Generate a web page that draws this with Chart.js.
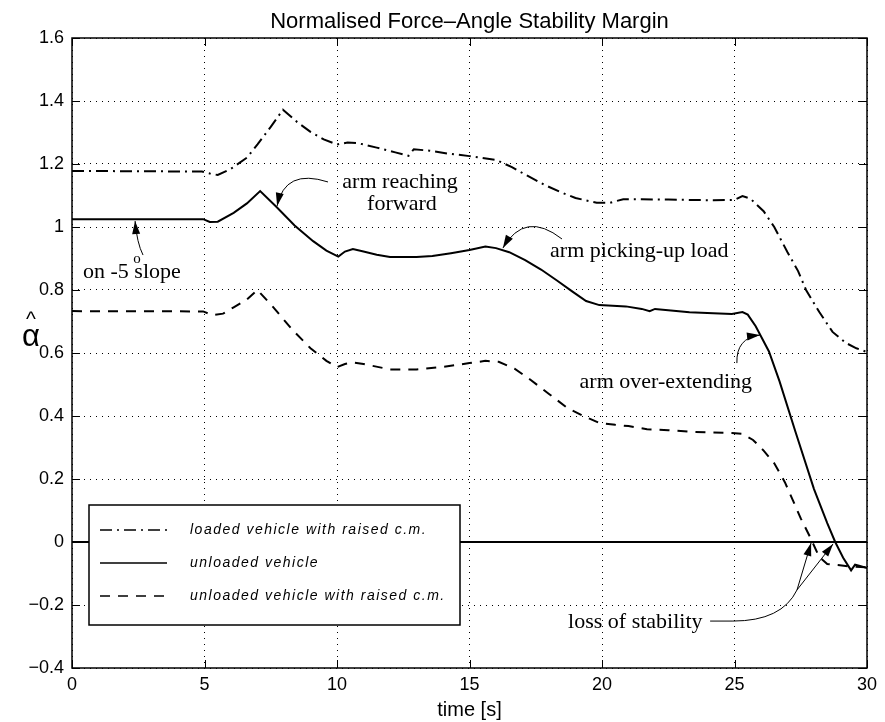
<!DOCTYPE html>
<html><head><meta charset="utf-8">
<script src="https://cdn.jsdelivr.net/npm/chart.js@4.4.0/dist/chart.umd.min.js"></script>
<style>html,body{margin:0;padding:0;background:#fff;}canvas{display:block;}</style>
</head><body>
<canvas id="c" width="885" height="722" style="width:885px;height:722px"></canvas>
<script>
// ---------- data ----------
const chartTitle = 'Normalised Force\u2013Angle Stability Margin';
const xAxisTitle = 'time [s]';
const yAxisSymbol = '\u03B1';
const yAxisHat = '^';
const xTickValues = [0, 5, 10, 15, 20, 25, 30];
const xTickLabels = ['0', '5', '10', '15', '20', '25', '30'];
const yTickValues = [-0.4, -0.2, 0, 0.2, 0.4, 0.6, 0.8, 1.0, 1.2, 1.4, 1.6];
const yTickLabels = ['\u22120.4', '\u22120.2', '0', '0.2', '0.4', '0.6', '0.8', '1', '1.2', '1.4', '1.6'];
const seriesNames = ['loaded vehicle with raised c.m.', 'unloaded vehicle', 'unloaded vehicle with raised c.m.'];

// loaded vehicle with raised c.m. (dash-dot)
const loadedT = [0, 2.5, 4.9, 5.2, 5.5, 6.0, 6.6, 7.0, 7.5, 7.96, 8.5, 9.0, 9.5, 10.0, 10.4, 10.8, 11.5, 12.2, 12.7, 12.9, 13.5, 14.2, 15.0, 16.0, 16.6, 17.2, 17.8, 18.4, 19.0, 19.8, 20.3, 20.8, 21.5, 22.5, 23.3, 24.2, 25.0, 25.3, 25.6, 26.1, 26.5, 27.0, 27.4, 27.7, 28.2, 28.7, 29.2, 29.6, 30.0];
const loadedV = [1.178, 1.177, 1.176, 1.170, 1.165, 1.185, 1.220, 1.262, 1.318, 1.372, 1.333, 1.302, 1.278, 1.262, 1.268, 1.266, 1.252, 1.237, 1.226, 1.247, 1.242, 1.233, 1.225, 1.213, 1.190, 1.162, 1.135, 1.112, 1.092, 1.077, 1.077, 1.088, 1.088, 1.087, 1.086, 1.085, 1.086, 1.098, 1.090, 1.050, 1.000, 0.920, 0.860, 0.800, 0.730, 0.667, 0.632, 0.615, 0.603];

// unloaded vehicle (solid)
const unloadedT = [0, 4.95, 5.2, 5.5, 6.1, 6.6, 7.1, 7.7, 8.4, 9.1, 9.6, 10.05, 10.3, 10.6, 11.0, 11.5, 12.0, 13.0, 13.6, 14.3, 15.0, 15.6, 16.0, 16.5, 17.1, 17.7, 18.3, 18.9, 19.4, 19.9, 20.4, 20.9, 21.5, 21.8, 22.0, 22.6, 23.3, 24.2, 24.9, 25.3, 25.5, 25.8, 26.3, 26.7, 27.3, 28.0, 28.5, 28.8, 29.1, 29.4, 29.55, 29.7, 30.0];
const unloadedV = [1.025, 1.025, 1.016, 1.017, 1.045, 1.075, 1.114, 1.065, 1.005, 0.955, 0.925, 0.906, 0.922, 0.930, 0.922, 0.912, 0.905, 0.905, 0.908, 0.917, 0.927, 0.938, 0.933, 0.920, 0.895, 0.865, 0.830, 0.794, 0.765, 0.752, 0.750, 0.748, 0.740, 0.733, 0.740, 0.735, 0.729, 0.726, 0.724, 0.730, 0.722, 0.685, 0.605, 0.510, 0.350, 0.168, 0.060, 0.000, -0.050, -0.090, -0.072, -0.075, -0.083];

// unloaded vehicle with raised c.m. (dashed)
const raisedT = [0, 4.95, 5.3, 5.7, 6.1, 6.6, 7.0, 7.6, 8.3, 9.0, 9.6, 10.0, 10.3, 10.6, 11.0, 12.0, 13.0, 14.0, 15.0, 15.6, 16.1, 16.7, 17.3, 18.0, 18.7, 19.3, 19.9, 20.5, 21.0, 21.7, 22.5, 23.3, 24.2, 24.9, 25.3, 25.7, 26.1, 26.5, 26.9, 27.2, 27.5, 27.85, 28.2, 28.5, 28.9, 29.4, 30.0];
const raisedV = [0.733, 0.732, 0.720, 0.725, 0.745, 0.770, 0.800, 0.745, 0.675, 0.615, 0.575, 0.555, 0.565, 0.570, 0.565, 0.548, 0.548, 0.556, 0.568, 0.575, 0.572, 0.550, 0.515, 0.470, 0.425, 0.400, 0.378, 0.372, 0.368, 0.358, 0.355, 0.350, 0.348, 0.346, 0.343, 0.324, 0.290, 0.250, 0.190, 0.133, 0.075, 0.016, -0.048, -0.070, -0.073, -0.078, -0.080];

// zero reference line
const zeroT = [0, 30];
const zeroV = [0, 0];

// ---------- annotation layout (data coordinates) ----------
const noteTexts = [
  {text: 'arm reaching', t: 12.38, v: 1.124, align: 'center'},
  {text: 'forward', t: 12.45, v: 1.054, align: 'center'},
  {text: 'arm picking-up load', t: 18.04, v: 0.905, align: 'left'},
  {text: 'arm over-extending', t: 25.66, v: 0.489, align: 'right'},
  {text: 'loss of stability', t: 18.72, v: -0.273, align: 'left'}
];
const slopeNote = {pre: 'on -5', sup: 'o', post: 'slope', t: 0.415, v: 0.838};
const noteArrows = [
  {from: [2.68, 0.911], ctrl: [2.45, 0.949], to: [2.38, 1.019]},
  {from: [9.66, 1.143], ctrl: [8.04, 1.187], to: [7.74, 1.067]},
  {from: [18.49, 0.962], ctrl: [17.09, 1.054], to: [16.26, 0.933]},
  {from: [25.09, 0.568], ctrl: [25.06, 0.648], to: [25.96, 0.657]},
  {from: [27.36, -0.152], ctrl: null, to: [27.89, -0.003]},
  {from: [27.36, -0.152], ctrl: null, to: [28.72, -0.006]}
];
const lossLeader = {a: [24.08, -0.251], b: [24.94, -0.251], ctrl: [26.79, -0.251], end: [27.36, -0.152]};

function pts(ts, vs) { return ts.map((t, i) => ({x: t, y: vs[i]})); }

const serifFont = '22px "Liberation Serif", "Times New Roman", serif';

function arrowHead(ctx, x, y, dx, dy) {
  const len = Math.hypot(dx, dy) || 1;
  const ux = dx / len, uy = dy / len;
  const L = 13, W = 4;
  ctx.beginPath();
  ctx.moveTo(x, y);
  ctx.lineTo(x - ux * L - uy * W, y - uy * L + ux * W);
  ctx.lineTo(x - ux * L + uy * W, y - uy * L - ux * W);
  ctx.closePath();
  ctx.fill();
}

const decorPlugin = {
  id: 'decor',
  afterDatasetsDraw(chart) {
    const {ctx, chartArea: a, scales: {x, y}} = chart;
    const P = p => [x.getPixelForValue(p[0]), y.getPixelForValue(p[1])];
    ctx.save();

    // ----- legend box -----
    const lx = a.left + 17, ly = a.bottom - 163, lw = 371, lh = 120;
    ctx.fillStyle = '#fff';
    ctx.fillRect(lx, ly, lw, lh);
    ctx.strokeStyle = '#000';
    ctx.lineWidth = 1.5;
    ctx.strokeRect(lx, ly, lw, lh);
    const dashes = [[12, 5, 2, 5], [], [10, 8]];
    ctx.font = 'italic 14px "Liberation Sans", Arial, sans-serif';
    try { ctx.letterSpacing = '1.5px'; } catch (e) {}
    ctx.textBaseline = 'middle';
    ctx.textAlign = 'left';
    seriesNames.forEach((name, i) => {
      const ry = ly + 25 + i * 33;
      ctx.setLineDash(dashes[i]);
      ctx.lineWidth = 1.5;
      ctx.beginPath();
      ctx.moveTo(lx + 11, ry);
      ctx.lineTo(lx + 78, ry);
      ctx.stroke();
      ctx.setLineDash([]);
      ctx.fillStyle = '#000';
      ctx.fillText(name, lx + 101, ry);
    });
    try { ctx.letterSpacing = '0px'; } catch (e) {}

    // ----- annotations -----
    ctx.fillStyle = '#000';
    ctx.strokeStyle = '#000';
    ctx.font = serifFont;
    ctx.textBaseline = 'alphabetic';
    noteTexts.forEach(n => {
      ctx.textAlign = n.align;
      ctx.fillText(n.text, x.getPixelForValue(n.t), y.getPixelForValue(n.v));
    });
    // slope note with superscript degree
    ctx.textAlign = 'left';
    let sx = x.getPixelForValue(slopeNote.t), sy = y.getPixelForValue(slopeNote.v);
    ctx.fillText(slopeNote.pre, sx, sy);
    const w1 = ctx.measureText(slopeNote.pre + ' ').width;
    ctx.fillText(slopeNote.post, sx + w1, sy);
    ctx.font = '15px "Liberation Serif", "Times New Roman", serif';
    ctx.fillText(slopeNote.sup, sx + w1 - 1, sy - 15);

    ctx.lineWidth = 1;
    noteArrows.forEach(ar => {
      const f = P(ar.from), t = P(ar.to);
      ctx.beginPath();
      ctx.moveTo(f[0], f[1]);
      let dx, dy;
      if (ar.ctrl) {
        const c = P(ar.ctrl);
        ctx.quadraticCurveTo(c[0], c[1], t[0], t[1]);
        dx = t[0] - c[0]; dy = t[1] - c[1];
      } else {
        ctx.lineTo(t[0], t[1]);
        dx = t[0] - f[0]; dy = t[1] - f[1];
      }
      ctx.stroke();
      arrowHead(ctx, t[0], t[1], dx, dy);
    });
    // leader for loss of stability
    {
      const A = P(lossLeader.a), B = P(lossLeader.b), C = P(lossLeader.ctrl), E = P(lossLeader.end);
      ctx.beginPath();
      ctx.moveTo(A[0], A[1]);
      ctx.lineTo(B[0], B[1]);
      ctx.quadraticCurveTo(C[0], C[1], E[0], E[1]);
      ctx.stroke();
    }

    // ----- frame and inner ticks -----
    ctx.lineWidth = 1.5;
    ctx.strokeRect(a.left, a.top, a.right - a.left, a.bottom - a.top);
    ctx.lineWidth = 1;
    ctx.beginPath();
    xTickValues.forEach(v => {
      const px = Math.round(x.getPixelForValue(v)) + 0.5;
      ctx.moveTo(px, a.bottom); ctx.lineTo(px, a.bottom - 8);
      ctx.moveTo(px, a.top); ctx.lineTo(px, a.top + 8);
    });
    yTickValues.forEach(v => {
      const py = Math.round(y.getPixelForValue(v)) + 0.5;
      ctx.moveTo(a.left, py); ctx.lineTo(a.left + 8, py);
      ctx.moveTo(a.right, py); ctx.lineTo(a.right - 8, py);
    });
    ctx.stroke();

    // ----- y axis symbol -----
    ctx.textAlign = 'center';
    ctx.textBaseline = 'middle';
    ctx.font = '31px "Liberation Sans", Arial, sans-serif';
    const ay = y.getPixelForValue(0.65);
    ctx.fillText(yAxisSymbol, 31, ay);
    ctx.font = '21px "Liberation Sans", Arial, sans-serif';
    ctx.fillText(yAxisHat, 31, ay - 17);
    ctx.restore();
  }
};

const lineBase = {pointRadius: 0, borderColor: '#000', borderWidth: 2, tension: 0, fill: false, borderCapStyle: 'butt'};
const tickFont = {family: 'Liberation Sans', size: 18};
const labelFont = {family: 'Liberation Sans', size: 20};

new Chart(document.getElementById('c'), {
  type: 'line',
  data: {
    datasets: [
      Object.assign({label: seriesNames[0], data: pts(loadedT, loadedV), borderDash: [12, 5, 2, 5]}, lineBase),
      Object.assign({label: seriesNames[1], data: pts(unloadedT, unloadedV)}, lineBase),
      Object.assign({label: seriesNames[2], data: pts(raisedT, raisedV), borderDash: [10, 8]}, lineBase),
      Object.assign({label: 'zero', data: pts(zeroT, zeroV)}, lineBase)
    ]
  },
  options: {
    responsive: false,
    animation: false,
    devicePixelRatio: 1,
    layout: {padding: {left: 0, right: 18, top: 0, bottom: 0}},
    plugins: {
      legend: {display: false},
      tooltip: {enabled: false},
      title: {
        display: true, text: chartTitle, fullSize: false,
        font: {family: 'Liberation Sans', size: 22, weight: 'normal'},
        color: '#000', padding: {top: 8.6, bottom: 3}
      }
    },
    scales: {
      x: {
        type: 'linear', min: 0, max: 30,
        afterBuildTicks: s => { s.ticks = xTickValues.map(v => ({value: v})); },
        afterFit: s => { s.height = 54; },
        ticks: {callback: (v, i) => xTickLabels[i], font: tickFont, color: '#000', padding: 6, maxRotation: 0, autoSkip: false},
        grid: {color: '#000', lineWidth: 1, drawTicks: false},
        border: {display: false, dash: [1, 5]},
        title: {display: true, text: xAxisTitle, font: labelFont, color: '#000', padding: {top: 0, bottom: 0}}
      },
      y: {
        type: 'linear', min: -0.4, max: 1.6,
        afterBuildTicks: s => { s.ticks = yTickValues.map(v => ({value: v})); },
        afterFit: s => { s.width = 72; },
        ticks: {callback: (v, i) => yTickLabels[i], font: tickFont, color: '#000', padding: 8},
        grid: {color: '#000', lineWidth: 1, drawTicks: false},
        border: {display: false, dash: [1, 5]}
      }
    }
  },
  plugins: [decorPlugin]
});
</script>
</body></html>
